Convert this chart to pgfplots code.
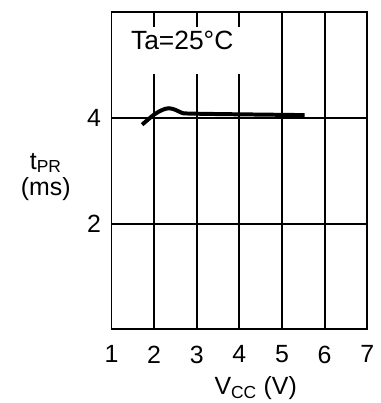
\documentclass[border=0pt]{standalone}
\usepackage{fontspec}
\setmainfont{Liberation Sans}
\usepackage{pgfplots}
\pgfplotsset{compat=1.18}
\begin{document}
\begin{tikzpicture}
\begin{axis}[
  scale only axis,
  width=257pt, height=319pt,
  xmin=1, xmax=7, ymin=0, ymax=6,
  xtick={1,2,3,4,5,6,7},
  ytick={2,4},
  grid=major,
  major grid style={black, line width=1.9pt},
  axis line style={black, line width=1.9pt},
  major tick length=0pt,
  tick style={draw=none},
  /pgf/number format/assume math mode=true,
  ticklabel style={font=\fontsize{25}{28}\selectfont},
  xticklabel style={yshift=-13pt},
  yticklabel style={xshift=-7pt},
  every axis x label/.style={at={(rel axis cs:0.564,0)}, anchor=center, yshift=-59pt, font=\fontsize{25}{28}\selectfont},
  every axis y label/.style={at={(rel axis cs:0,0.48)}, anchor=center, xshift=-66pt, align=center, font=\fontsize{25}{27}\selectfont},
  xlabel={V\textsubscript{CC} (V)},
  ylabel={t\textsubscript{PR}\\(ms)},
  clip=false,
]
\addplot[black, line width=4pt, smooth, tension=0.5] coordinates {
  (1.72,3.87) (2.0,4.06) (2.2,4.15) (2.35,4.18) (2.5,4.15) (2.66,4.09) (2.8,4.08) (3.5,4.07) (4.5,4.06) (5.53,4.05)
};
\fill[white] (axis cs:1.30,4.83) rectangle (axis cs:4.21,5.72);
\node[font=\fontsize{26.5}{30}\selectfont, anchor=center] at (axis cs:2.66,5.47) {Ta=25°C};
\end{axis}
\path[use as bounding box] (-112pt,-72pt) rectangle (270pt,331pt);
\end{tikzpicture}
\end{document}
